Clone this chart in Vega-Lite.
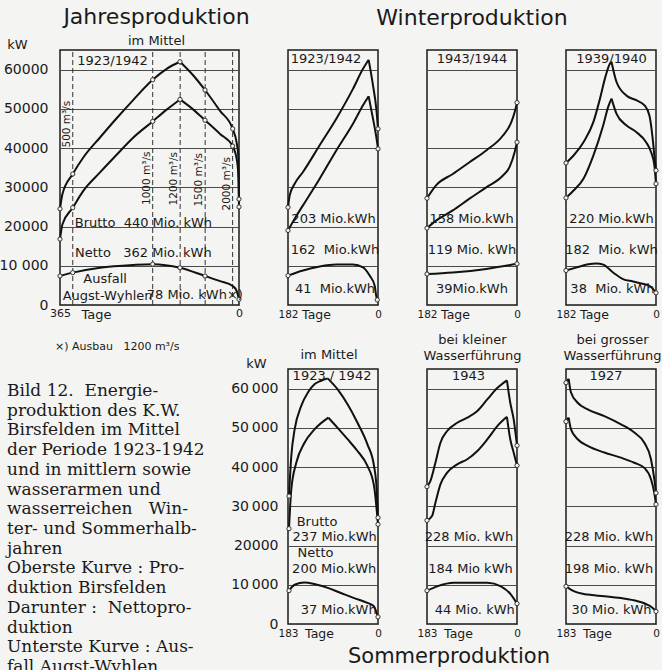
{
  "$schema": "https://vega.github.io/schema/vega-lite/v6.json",
  "background": "#f4f4f2",
  "padding": {"left": -2, "top": 5, "right": 0, "bottom": 0},
  "config": {
    "font": "DejaVu Sans",
    "view": {"stroke": "#1a1a1a", "strokeWidth": 1.5},
    "axis": {"domain": false, "ticks": false, "grid": false, "labelColor": "#1a1a1a", "titleColor": "#1a1a1a", "titleFontWeight": "normal", "gridColor": "#4a4a4a", "gridWidth": 1, "gridOpacity": 1, "labelFlush": false},
    "title": {"fontWeight": "normal", "color": "#1a1a1a", "subtitleColor": "#1a1a1a"},
    "text": {"fontSize": 13, "color": "#1a1a1a"}
  },
  "datasets": {
    "kurven": [
      {"p":"J","s":"B","a":1,"t":365,"kw":24500,"m":1},{"p":"J","s":"B","a":1,"t":360,"kw":28300},{"p":"J","s":"B","a":1,"t":339,"kw":33400,"m":1},{"p":"J","s":"B","a":1,"t":317.5,"kw":37600},{"p":"J","s":"B","a":1,"t":283.4,"kw":42700},{"p":"J","s":"B","a":1,"t":249.5,"kw":47600},{"p":"J","s":"B","a":1,"t":215.4,"kw":52300},{"p":"J","s":"B","a":1,"t":176,"kw":57400,"m":1},{"p":"J","s":"B","a":1,"t":147.5,"kw":60200},{"p":"J","s":"B","a":1,"t":120.3,"kw":62000,"m":1},
      {"p":"J","s":"B","a":2,"t":120.3,"kw":62000},{"p":"J","s":"B","a":2,"t":93.1,"kw":58500},{"p":"J","s":"B","a":2,"t":69.3,"kw":54800,"m":1},{"p":"J","s":"B","a":2,"t":38.7,"kw":49500},{"p":"J","s":"B","a":2,"t":12.9,"kw":44900,"m":1},{"p":"J","s":"B","a":2,"t":5,"kw":41500},{"p":"J","s":"B","a":2,"t":1.4,"kw":38000},{"p":"J","s":"B","a":2,"t":0,"kw":27000,"m":1},
      {"p":"J","s":"N","a":1,"t":365,"kw":16800,"m":1},{"p":"J","s":"N","a":1,"t":360,"kw":20600},{"p":"J","s":"N","a":1,"t":339,"kw":24800,"m":1},{"p":"J","s":"N","a":1,"t":317.5,"kw":29100},{"p":"J","s":"N","a":1,"t":283.4,"kw":33800},{"p":"J","s":"N","a":1,"t":249.5,"kw":38300},{"p":"J","s":"N","a":1,"t":215.4,"kw":42700},{"p":"J","s":"N","a":1,"t":176,"kw":46800,"m":1},{"p":"J","s":"N","a":1,"t":147.5,"kw":49800},{"p":"J","s":"N","a":1,"t":120.3,"kw":52400,"m":1},
      {"p":"J","s":"N","a":2,"t":120.3,"kw":52400},{"p":"J","s":"N","a":2,"t":93.1,"kw":49800},{"p":"J","s":"N","a":2,"t":69.3,"kw":47100,"m":1},{"p":"J","s":"N","a":2,"t":38.7,"kw":43600},{"p":"J","s":"N","a":2,"t":12.9,"kw":40500,"m":1},{"p":"J","s":"N","a":2,"t":3.5,"kw":36300},{"p":"J","s":"N","a":2,"t":1,"kw":32000},{"p":"J","s":"N","a":2,"t":0,"kw":25000,"m":1},
      {"p":"J","s":"A","a":1,"t":365,"kw":7400,"m":1},{"p":"J","s":"A","a":1,"t":339,"kw":8250,"m":1},{"p":"J","s":"A","a":1,"t":283.4,"kw":9500},{"p":"J","s":"A","a":1,"t":215.4,"kw":10200},{"p":"J","s":"A","a":1,"t":176,"kw":10400,"m":1},{"p":"J","s":"A","a":1,"t":120.3,"kw":9500,"m":1},{"p":"J","s":"A","a":1,"t":69.3,"kw":7400,"m":1},{"p":"J","s":"A","a":1,"t":38.7,"kw":6100},{"p":"J","s":"A","a":1,"t":12.9,"kw":4850},{"p":"J","s":"A","a":1,"t":4.8,"kw":3600},{"p":"J","s":"A","a":1,"t":0,"kw":1450,"m":1},

      {"p":"W1","s":"B","a":1,"t":182,"kw":24900,"m":1},{"p":"W1","s":"B","a":1,"t":178.6,"kw":27900},{"p":"W1","s":"B","a":1,"t":168.5,"kw":30900},{"p":"W1","s":"B","a":1,"t":151.7,"kw":33900},{"p":"W1","s":"B","a":1,"t":118,"kw":40700},{"p":"W1","s":"B","a":1,"t":84.3,"kw":47500},{"p":"W1","s":"B","a":1,"t":50.6,"kw":55100},{"p":"W1","s":"B","a":1,"t":30.3,"kw":60200},{"p":"W1","s":"B","a":1,"t":18.9,"kw":62500},
      {"p":"W1","s":"B","a":2,"t":18.9,"kw":62500},{"p":"W1","s":"B","a":2,"t":10.1,"kw":56000},{"p":"W1","s":"B","a":2,"t":3.4,"kw":50000},{"p":"W1","s":"B","a":2,"t":0,"kw":44900,"m":1},
      {"p":"W1","s":"N","a":1,"t":182,"kw":19000,"m":1},{"p":"W1","s":"N","a":1,"t":168.5,"kw":22000},{"p":"W1","s":"N","a":1,"t":151.7,"kw":25400},{"p":"W1","s":"N","a":1,"t":118,"kw":32200},{"p":"W1","s":"N","a":1,"t":84.3,"kw":39400},{"p":"W1","s":"N","a":1,"t":50.6,"kw":46200},{"p":"W1","s":"N","a":1,"t":30.3,"kw":50900},{"p":"W1","s":"N","a":1,"t":18.9,"kw":53200},
      {"p":"W1","s":"N","a":2,"t":18.9,"kw":53200},{"p":"W1","s":"N","a":2,"t":10.1,"kw":47500},{"p":"W1","s":"N","a":2,"t":3.4,"kw":42800},{"p":"W1","s":"N","a":2,"t":0,"kw":39800,"m":1},
      {"p":"W1","s":"A","a":1,"t":182,"kw":7500,"m":1},{"p":"W1","s":"A","a":1,"t":151.7,"kw":8800},{"p":"W1","s":"A","a":1,"t":118,"kw":9800},{"p":"W1","s":"A","a":1,"t":84.3,"kw":10300},{"p":"W1","s":"A","a":1,"t":50.6,"kw":10300},{"p":"W1","s":"A","a":1,"t":30.3,"kw":9600},{"p":"W1","s":"A","a":1,"t":16.9,"kw":7500},{"p":"W1","s":"A","a":1,"t":6.7,"kw":4900},{"p":"W1","s":"A","a":1,"t":3.4,"kw":2200},{"p":"W1","s":"A","a":1,"t":1.5,"kw":1300,"m":1},

      {"p":"W2","s":"B","a":1,"t":182,"kw":27200,"m":1},{"p":"W2","s":"B","a":1,"t":163.7,"kw":30500},{"p":"W2","s":"B","a":1,"t":129.9,"kw":33400},{"p":"W2","s":"B","a":1,"t":96.1,"kw":36400},{"p":"W2","s":"B","a":1,"t":62.2,"kw":39400},{"p":"W2","s":"B","a":1,"t":28.4,"kw":43200},{"p":"W2","s":"B","a":1,"t":11.5,"kw":46600},{"p":"W2","s":"B","a":1,"t":4.7,"kw":49200},{"p":"W2","s":"B","a":1,"t":0,"kw":51600,"m":1},
      {"p":"W2","s":"N","a":1,"t":182,"kw":19600,"m":1},{"p":"W2","s":"N","a":1,"t":163.7,"kw":21500},{"p":"W2","s":"N","a":1,"t":129.9,"kw":24100},{"p":"W2","s":"N","a":1,"t":96.1,"kw":27100},{"p":"W2","s":"N","a":1,"t":62.2,"kw":30000},{"p":"W2","s":"N","a":1,"t":28.4,"kw":33000},{"p":"W2","s":"N","a":1,"t":14.9,"kw":35200},{"p":"W2","s":"N","a":1,"t":4.7,"kw":39000},{"p":"W2","s":"N","a":1,"t":0,"kw":41500,"m":1},
      {"p":"W2","s":"A","a":1,"t":182,"kw":7900,"m":1},{"p":"W2","s":"A","a":1,"t":129.9,"kw":8300},{"p":"W2","s":"A","a":1,"t":62.2,"kw":9200},{"p":"W2","s":"A","a":1,"t":0,"kw":10500,"m":1},

      {"p":"W3","s":"B","a":1,"t":182,"kw":36200,"m":1},{"p":"W3","s":"B","a":1,"t":166.7,"kw":38100},{"p":"W3","s":"B","a":1,"t":146.7,"kw":41500},{"p":"W3","s":"B","a":1,"t":126.7,"kw":46600},{"p":"W3","s":"B","a":1,"t":113.3,"kw":52600},{"p":"W3","s":"B","a":1,"t":103.3,"kw":57700},{"p":"W3","s":"B","a":1,"t":93.3,"kw":61500},{"p":"W3","s":"B","a":1,"t":90,"kw":62000},
      {"p":"W3","s":"B","a":2,"t":90,"kw":62000},{"p":"W3","s":"B","a":2,"t":80,"kw":56900},{"p":"W3","s":"B","a":2,"t":60,"kw":53400},{"p":"W3","s":"B","a":2,"t":40,"kw":52200},{"p":"W3","s":"B","a":2,"t":23.3,"kw":50900},{"p":"W3","s":"B","a":2,"t":13.3,"kw":48300},{"p":"W3","s":"B","a":2,"t":6.7,"kw":42400},{"p":"W3","s":"B","a":2,"t":3.3,"kw":38100},{"p":"W3","s":"B","a":2,"t":0,"kw":34300,"m":1},
      {"p":"W3","s":"N","a":1,"t":182,"kw":27300,"m":1},{"p":"W3","s":"N","a":1,"t":166.7,"kw":29200},{"p":"W3","s":"N","a":1,"t":146.7,"kw":32200},{"p":"W3","s":"N","a":1,"t":126.7,"kw":38100},{"p":"W3","s":"N","a":1,"t":106.7,"kw":45800},{"p":"W3","s":"N","a":1,"t":96.7,"kw":50500},{"p":"W3","s":"N","a":1,"t":90,"kw":52600},
      {"p":"W3","s":"N","a":2,"t":90,"kw":52600},{"p":"W3","s":"N","a":2,"t":80,"kw":48800},{"p":"W3","s":"N","a":2,"t":60,"kw":45800},{"p":"W3","s":"N","a":2,"t":40,"kw":44100},{"p":"W3","s":"N","a":2,"t":20,"kw":41500},{"p":"W3","s":"N","a":2,"t":10,"kw":39000},{"p":"W3","s":"N","a":2,"t":3.3,"kw":35600},{"p":"W3","s":"N","a":2,"t":0,"kw":30900,"m":1},
      {"p":"W3","s":"A","a":1,"t":182,"kw":8800,"m":1},{"p":"W3","s":"A","a":1,"t":160,"kw":9600},{"p":"W3","s":"A","a":1,"t":140,"kw":10300},{"p":"W3","s":"A","a":1,"t":120,"kw":10600},{"p":"W3","s":"A","a":1,"t":106.7,"kw":10300},{"p":"W3","s":"A","a":1,"t":86.7,"kw":8300},{"p":"W3","s":"A","a":1,"t":66.7,"kw":6600},{"p":"W3","s":"A","a":1,"t":46.7,"kw":6000},{"p":"W3","s":"A","a":1,"t":26.7,"kw":5400},{"p":"W3","s":"A","a":1,"t":13.3,"kw":4900},{"p":"W3","s":"A","a":1,"t":3.3,"kw":3700},{"p":"W3","s":"A","a":1,"t":0,"kw":3100,"m":1},

      {"p":"S1","s":"B","a":1,"t":181,"kw":32600,"m":1},{"p":"S1","s":"B","a":1,"t":176.3,"kw":42800},{"p":"S1","s":"B","a":1,"t":169.5,"kw":49600},{"p":"S1","s":"B","a":1,"t":156.1,"kw":55600},{"p":"S1","s":"B","a":1,"t":142.6,"kw":59000},{"p":"S1","s":"B","a":1,"t":129.2,"kw":61100},{"p":"S1","s":"B","a":1,"t":115.7,"kw":62000},{"p":"S1","s":"B","a":1,"t":102.3,"kw":62600},
      {"p":"S1","s":"B","a":2,"t":102.3,"kw":62600},{"p":"S1","s":"B","a":2,"t":82.1,"kw":59800},{"p":"S1","s":"B","a":2,"t":61.9,"kw":56000},{"p":"S1","s":"B","a":2,"t":41.7,"kw":51300},{"p":"S1","s":"B","a":2,"t":21.5,"kw":45800},{"p":"S1","s":"B","a":2,"t":8.1,"kw":40300},{"p":"S1","s":"B","a":2,"t":2.7,"kw":34300},{"p":"S1","s":"B","a":2,"t":0,"kw":27100,"m":1},
      {"p":"S1","s":"N","a":1,"t":181,"kw":24300,"m":1},{"p":"S1","s":"N","a":1,"t":176.3,"kw":34300},{"p":"S1","s":"N","a":1,"t":166.2,"kw":41100},{"p":"S1","s":"N","a":1,"t":149.4,"kw":46200},{"p":"S1","s":"N","a":1,"t":129.2,"kw":49600},{"p":"S1","s":"N","a":1,"t":101,"kw":52600},
      {"p":"S1","s":"N","a":2,"t":101,"kw":52600},{"p":"S1","s":"N","a":2,"t":82.1,"kw":50000},{"p":"S1","s":"N","a":2,"t":61.9,"kw":47100},{"p":"S1","s":"N","a":2,"t":41.7,"kw":44100},{"p":"S1","s":"N","a":2,"t":21.5,"kw":40300},{"p":"S1","s":"N","a":2,"t":8.1,"kw":35200},{"p":"S1","s":"N","a":2,"t":0,"kw":25400,"m":1},
      {"p":"S1","s":"A","a":1,"t":181,"kw":8500,"m":1},{"p":"S1","s":"A","a":1,"t":169.5,"kw":10000},{"p":"S1","s":"A","a":1,"t":149.4,"kw":10600},{"p":"S1","s":"A","a":1,"t":129.2,"kw":10200},{"p":"S1","s":"A","a":1,"t":102.3,"kw":9200},{"p":"S1","s":"A","a":1,"t":75.4,"kw":7900},{"p":"S1","s":"A","a":1,"t":48.4,"kw":6600},{"p":"S1","s":"A","a":1,"t":21.5,"kw":5400},{"p":"S1","s":"A","a":1,"t":8.1,"kw":4500},{"p":"S1","s":"A","a":1,"t":2.7,"kw":2800},{"p":"S1","s":"A","a":1,"t":0,"kw":1800,"m":1},

      {"p":"S2","s":"B","a":1,"t":183,"kw":35000,"m":1},{"p":"S2","s":"B","a":1,"t":176.2,"kw":36400},{"p":"S2","s":"B","a":1,"t":165.9,"kw":41100},{"p":"S2","s":"B","a":1,"t":155.7,"kw":46200},{"p":"S2","s":"B","a":1,"t":142,"kw":49200},{"p":"S2","s":"B","a":1,"t":121.5,"kw":51300},{"p":"S2","s":"B","a":1,"t":101.1,"kw":52600},{"p":"S2","s":"B","a":1,"t":80.6,"kw":54300},{"p":"S2","s":"B","a":1,"t":60.1,"kw":57300},{"p":"S2","s":"B","a":1,"t":39.6,"kw":60200},{"p":"S2","s":"B","a":1,"t":20.5,"kw":62100},
      {"p":"S2","s":"B","a":2,"t":20.5,"kw":62100},{"p":"S2","s":"B","a":2,"t":13.7,"kw":56400},{"p":"S2","s":"B","a":2,"t":6.8,"kw":52200},{"p":"S2","s":"B","a":2,"t":0,"kw":45500,"m":1},
      {"p":"S2","s":"N","a":1,"t":183,"kw":26400,"m":1},{"p":"S2","s":"N","a":1,"t":172.8,"kw":27500},{"p":"S2","s":"N","a":1,"t":165.9,"kw":30900},{"p":"S2","s":"N","a":1,"t":155.7,"kw":35600},{"p":"S2","s":"N","a":1,"t":142,"kw":38600},{"p":"S2","s":"N","a":1,"t":121.5,"kw":40700},{"p":"S2","s":"N","a":1,"t":101.1,"kw":42000},{"p":"S2","s":"N","a":1,"t":80.6,"kw":44100},{"p":"S2","s":"N","a":1,"t":60.1,"kw":47100},{"p":"S2","s":"N","a":1,"t":39.6,"kw":50500},{"p":"S2","s":"N","a":1,"t":20.5,"kw":52800},
      {"p":"S2","s":"N","a":2,"t":20.5,"kw":52800},{"p":"S2","s":"N","a":2,"t":13.7,"kw":47100},{"p":"S2","s":"N","a":2,"t":6.8,"kw":43700},{"p":"S2","s":"N","a":2,"t":0,"kw":40400,"m":1},
      {"p":"S2","s":"A","a":1,"t":183,"kw":8500,"m":1},{"p":"S2","s":"A","a":1,"t":162.5,"kw":9600},{"p":"S2","s":"A","a":1,"t":128.4,"kw":10500},{"p":"S2","s":"A","a":1,"t":94.2,"kw":10500},{"p":"S2","s":"A","a":1,"t":60.1,"kw":10500},{"p":"S2","s":"A","a":1,"t":32.8,"kw":9600},{"p":"S2","s":"A","a":1,"t":12.3,"kw":7500},{"p":"S2","s":"A","a":1,"t":0,"kw":5200,"m":1},

      {"p":"S3","s":"B","a":1,"t":183,"kw":61500,"m":1},{"p":"S3","s":"B","a":1,"t":177.6,"kw":62500},
      {"p":"S3","s":"B","a":2,"t":177.6,"kw":62500},{"p":"S3","s":"B","a":2,"t":172.8,"kw":59000},{"p":"S3","s":"B","a":2,"t":159.3,"kw":56400},{"p":"S3","s":"B","a":2,"t":138.9,"kw":54700},{"p":"S3","s":"B","a":2,"t":105,"kw":53000},{"p":"S3","s":"B","a":2,"t":71.2,"kw":50900},{"p":"S3","s":"B","a":2,"t":44.1,"kw":48800},{"p":"S3","s":"B","a":2,"t":23.7,"kw":46200},{"p":"S3","s":"B","a":2,"t":10.2,"kw":42000},{"p":"S3","s":"B","a":2,"t":3.4,"kw":36900},{"p":"S3","s":"B","a":2,"t":0,"kw":33400,"m":1},
      {"p":"S3","s":"N","a":1,"t":183,"kw":51600,"m":1},{"p":"S3","s":"N","a":1,"t":177.6,"kw":52600},
      {"p":"S3","s":"N","a":2,"t":177.6,"kw":52600},{"p":"S3","s":"N","a":2,"t":172.8,"kw":49600},{"p":"S3","s":"N","a":2,"t":159.3,"kw":47100},{"p":"S3","s":"N","a":2,"t":138.9,"kw":45400},{"p":"S3","s":"N","a":2,"t":105,"kw":43700},{"p":"S3","s":"N","a":2,"t":71.2,"kw":42400},{"p":"S3","s":"N","a":2,"t":44.1,"kw":41100},{"p":"S3","s":"N","a":2,"t":23.7,"kw":39800},{"p":"S3","s":"N","a":2,"t":10.2,"kw":36900},{"p":"S3","s":"N","a":2,"t":3.4,"kw":33400},{"p":"S3","s":"N","a":2,"t":0,"kw":30500,"m":1},
      {"p":"S3","s":"A","a":1,"t":183,"kw":9600,"m":1},{"p":"S3","s":"A","a":1,"t":166,"kw":8300},{"p":"S3","s":"A","a":1,"t":138.9,"kw":7500},{"p":"S3","s":"A","a":1,"t":105,"kw":7100},{"p":"S3","s":"A","a":1,"t":71.2,"kw":6600},{"p":"S3","s":"A","a":1,"t":37.3,"kw":5800},{"p":"S3","s":"A","a":1,"t":16.9,"kw":4900},{"p":"S3","s":"A","a":1,"t":3.4,"kw":3700},{"p":"S3","s":"A","a":1,"t":0,"kw":3200,"m":1}
    ],
    "linien": [
      {"t":339,"kw":46100,"q":"500 m³/s"},
      {"t":176,"kw":32300,"q":"1000 m³/s"},
      {"t":120,"kw":32200,"q":"1200 m³/s"},
      {"t":69,"kw":31900,"q":"1500 m³/s"},
      {"t":13,"kw":30900,"q":"2000 m³/s"}
    ],
    "striche": [
      {"b":"jahr","t":25},{"b":"jahr","t":50},{"b":"jahr","t":75},{"b":"jahr","t":100},{"b":"jahr","t":125},{"b":"jahr","t":150},{"b":"jahr","t":175},{"b":"jahr","t":200},{"b":"jahr","t":225},{"b":"jahr","t":250},{"b":"jahr","t":275},{"b":"jahr","t":300},{"b":"jahr","t":325},{"b":"jahr","t":350},
      {"b":"halb","t":150},{"b":"halb","t":50},{"b":"mitte","t":100}
    ],
    "texte": [
      {"p":"J","text":"1923/1942","t":258,"kw":62300},
      {"p":"J","text":"Brutto\u00a0 440 Mio. kWh","t":195,"kw":20900},
      {"p":"J","text":"Netto\u00a0\u00a0 362 Mio. kWh","t":195,"kw":13300},
      {"p":"J","text":"Ausfall","t":273,"kw":6640},
      {"p":"J","text":"Augst-Wyhlen","t":268,"kw":2300},
      {"p":"J","text":"78 Mio. kWh×)","t":90,"kw":2550},
      {"p":"W1","text":"1923/1942","t":105,"kw":62800},
      {"p":"W1","text":"203 Mio.kWh","t":90,"kw":21800},
      {"p":"W1","text":"162\u00a0 Mio.kWh","t":87,"kw":13900},
      {"p":"W1","text":"41\u00a0 Mio.kWh","t":87,"kw":4100},
      {"p":"W2","text":"1943/1944","t":91,"kw":62800},
      {"p":"W2","text":"158 Mio.kWh","t":92,"kw":21800},
      {"p":"W2","text":"119 Mio. kWh","t":91,"kw":13900},
      {"p":"W2","text":"39Mio.kWh","t":91,"kw":4100},
      {"p":"W3","text":"1939/1940","t":90,"kw":62800},
      {"p":"W3","text":"220 Mio.kWh","t":90,"kw":21800},
      {"p":"W3","text":"182\u00a0 Mio. kWh","t":90,"kw":13900},
      {"p":"W3","text":"38\u00a0 Mio. kWh","t":88,"kw":4100},
      {"p":"S1","text":"1923 / 1942","t":93.5,"kw":63300},
      {"p":"S1","text":"Brutto","t":124,"kw":26000},
      {"p":"S1","text":"237 Mio.kWh","t":88,"kw":22200},
      {"p":"S1","text":"Netto","t":127,"kw":18100},
      {"p":"S1","text":"200 Mio.kWh","t":89,"kw":14000},
      {"p":"S1","text":"37 Mio.kWh","t":80,"kw":3600},
      {"p":"S2","text":"1943","t":98.7,"kw":63300},
      {"p":"S2","text":"228 Mio. kWh","t":97.7,"kw":22200},
      {"p":"S2","text":"184 Mio kWh","t":94.6,"kw":14000},
      {"p":"S2","text":"44 Mio. kWh","t":86,"kw":3600},
      {"p":"S3","text":"1927","t":101.7,"kw":63300},
      {"p":"S3","text":"228 Mio. kWh","t":95.6,"kw":22200},
      {"p":"S3","text":"198 Mio. kWh","t":95.6,"kw":14000},
      {"p":"S3","text":"30 Mio. kWh","t":90.5,"kw":3600}
    ],
    "legende": [
      {"zeile":1,"text":"Bild 12.\u00a0 Energie-"},
      {"zeile":2,"text":"produktion des K.W."},
      {"zeile":3,"text":"Birsfelden im Mittel"},
      {"zeile":4,"text":"der Periode 1923-1942"},
      {"zeile":5,"text":"und in mittlern sowie"},
      {"zeile":6,"text":"wasserarmen und"},
      {"zeile":7,"text":"wasserreichen\u00a0\u00a0 Win-"},
      {"zeile":8,"text":"ter- und Sommerhalb-"},
      {"zeile":9,"text":"jahren"},
      {"zeile":10,"text":"Oberste Kurve : Pro-"},
      {"zeile":11,"text":"\u00a0\u00a0\u00a0duktion Birsfelden"},
      {"zeile":12,"text":"Darunter :\u00a0 Nettopro-"},
      {"zeile":13,"text":"\u00a0\u00a0\u00a0duktion"},
      {"zeile":14,"text":"Unterste Kurve : Aus-"},
      {"zeile":15,"text":"\u00a0\u00a0\u00a0fall Augst-Wyhlen"}
    ]
  },
  "data": {"name": "kurven"},
  "columns": 4,
  "bounds": "flush",
  "align": "each",
  "spacing": {"row": 64, "column": 49},
  "concat": [
    {
      "width": 179, "height": 255,
      "title": {"text": "Jahresproduktion", "subtitle": "im Mittel", "fontSize": 22, "subtitleFontSize": 13, "dx": 7, "offset": -11, "subtitlePadding": 6},
      "encoding": {
        "x": {"field": "t", "type": "quantitative", "scale": {"domain": [365, 0], "nice": false, "zero": false},
              "axis": {"values": [365, 0], "labelFontSize": 11, "labelBaseline": "middle", "labelPadding": 8, "title": "Tage", "titleFontSize": 13, "titleX": 36, "titleY": 9, "titleAlign": "center", "titleBaseline": "middle"}},
        "y": {"field": "kw", "type": "quantitative", "scale": {"domain": [0, 65000], "nice": false},
              "axis": {"values": [0, 10000, 20000, 30000, 40000, 50000, 60000], "grid": true, "labelFontSize": 14, "labelPadding": 12, "labelExpr": "datum.value == 10000 ? '10 000' : '' + datum.value", "title": "kW", "titleAngle": 0, "titleX": -43, "titleY": -6, "titleAlign": "center", "titleBaseline": "middle", "titleFontSize": 13}}
      },
      "layer": [
        {"data": {"name": "linien"}, "mark": {"type": "rule", "strokeDash": [5, 3], "color": "#333", "strokeWidth": 1}, "encoding": {"y": {"datum": 0}, "y2": {"datum": 65000}}},
        {"data": {"name": "linien"}, "mark": {"type": "text", "angle": 270, "baseline": "bottom", "fontSize": 10.5, "dy": -1}, "encoding": {"text": {"field": "q"}}},
        {"data": {"name": "striche"}, "transform": [{"filter": "datum.b == 'jahr'"}], "mark": {"type": "rule", "color": "#222", "strokeWidth": 1}, "encoding": {"y": {"datum": 0}, "y2": {"datum": 1000}}},
        {"transform": [{"filter": "datum.p == 'J'"}], "mark": {"type": "line", "interpolate": "monotone", "color": "#111", "strokeWidth": 2}, "encoding": {"detail": [{"field": "s"}, {"field": "a"}], "order": {"field": "t", "type": "quantitative", "sort": "descending"}}},
        {"transform": [{"filter": "datum.p == 'J' && datum.m == 1"}], "mark": {"type": "point", "shape": "circle", "filled": true, "fill": "#f4f4f2", "stroke": "#333", "strokeWidth": 1, "size": 18, "opacity": 1}},
        {"data": {"name": "texte"}, "transform": [{"filter": "datum.p == 'J'"}], "mark": {"type": "text"}, "encoding": {"text": {"field": "text"}}}
      ]
    },
    {
      "width": 90, "height": 255,
      "encoding": {
        "x": {"field": "t", "type": "quantitative", "scale": {"domain": [182, 0], "nice": false, "zero": false},
              "axis": {"values": [182, 0], "labelFontSize": 10.5, "labelBaseline": "middle", "labelPadding": 9, "title": "Tage", "titleFontSize": 12.5, "titleX": 28, "titleY": 9, "titleAlign": "center", "titleBaseline": "middle"}},
        "y": {"field": "kw", "type": "quantitative", "scale": {"domain": [0, 65000], "nice": false},
              "axis": {"values": [0, 10000, 20000, 30000, 40000, 50000, 60000], "grid": true, "labels": false, "title": null}}
      },
      "layer": [
        {"data": {"name": "striche"}, "transform": [{"filter": "datum.b == 'halb'"}], "mark": {"type": "rule", "color": "#222", "strokeWidth": 1}, "encoding": {"y": {"datum": 0}, "y2": {"datum": 1000}}},
        {"data": {"name": "striche"}, "transform": [{"filter": "datum.b == 'mitte'"}], "mark": {"type": "rule", "color": "#222", "strokeWidth": 1}, "encoding": {"y": {"datum": 0}, "y2": {"datum": 2000}}},
        {"transform": [{"filter": "datum.p == 'W1'"}], "mark": {"type": "line", "interpolate": "monotone", "color": "#111", "strokeWidth": 2}, "encoding": {"detail": [{"field": "s"}, {"field": "a"}], "order": {"field": "t", "type": "quantitative", "sort": "descending"}}},
        {"transform": [{"filter": "datum.p == 'W1' && datum.m == 1"}], "mark": {"type": "point", "shape": "circle", "filled": true, "fill": "#f4f4f2", "stroke": "#333", "strokeWidth": 1, "size": 18, "opacity": 1}},
        {"data": {"name": "texte"}, "transform": [{"filter": "datum.p == 'W1'"}], "mark": {"type": "text"}, "encoding": {"text": {"field": "text"}}}
      ]
    },
    {
      "width": 90, "height": 255,
      "title": {"text": "Winterproduktion", "fontSize": 22, "offset": 20},
      "encoding": {
        "x": {"field": "t", "type": "quantitative", "scale": {"domain": [182, 0], "nice": false, "zero": false},
              "axis": {"values": [182, 0], "labelFontSize": 10.5, "labelBaseline": "middle", "labelPadding": 9, "title": "Tage", "titleFontSize": 12.5, "titleX": 28, "titleY": 9, "titleAlign": "center", "titleBaseline": "middle"}},
        "y": {"field": "kw", "type": "quantitative", "scale": {"domain": [0, 65000], "nice": false},
              "axis": {"values": [0, 10000, 20000, 30000, 40000, 50000, 60000], "grid": true, "labels": false, "title": null}}
      },
      "layer": [
        {"data": {"name": "striche"}, "transform": [{"filter": "datum.b == 'halb'"}], "mark": {"type": "rule", "color": "#222", "strokeWidth": 1}, "encoding": {"y": {"datum": 0}, "y2": {"datum": 1000}}},
        {"data": {"name": "striche"}, "transform": [{"filter": "datum.b == 'mitte'"}], "mark": {"type": "rule", "color": "#222", "strokeWidth": 1}, "encoding": {"y": {"datum": 0}, "y2": {"datum": 2000}}},
        {"transform": [{"filter": "datum.p == 'W2'"}], "mark": {"type": "line", "interpolate": "monotone", "color": "#111", "strokeWidth": 2}, "encoding": {"detail": [{"field": "s"}, {"field": "a"}], "order": {"field": "t", "type": "quantitative", "sort": "descending"}}},
        {"transform": [{"filter": "datum.p == 'W2' && datum.m == 1"}], "mark": {"type": "point", "shape": "circle", "filled": true, "fill": "#f4f4f2", "stroke": "#333", "strokeWidth": 1, "size": 18, "opacity": 1}},
        {"data": {"name": "texte"}, "transform": [{"filter": "datum.p == 'W2'"}], "mark": {"type": "text"}, "encoding": {"text": {"field": "text"}}}
      ]
    },
    {
      "width": 90, "height": 255,
      "encoding": {
        "x": {"field": "t", "type": "quantitative", "scale": {"domain": [182, 0], "nice": false, "zero": false},
              "axis": {"values": [182, 0], "labelFontSize": 10.5, "labelBaseline": "middle", "labelPadding": 9, "title": "Tage", "titleFontSize": 12.5, "titleX": 28, "titleY": 9, "titleAlign": "center", "titleBaseline": "middle"}},
        "y": {"field": "kw", "type": "quantitative", "scale": {"domain": [0, 65000], "nice": false},
              "axis": {"values": [0, 10000, 20000, 30000, 40000, 50000, 60000], "grid": true, "labels": false, "title": null}}
      },
      "layer": [
        {"data": {"name": "striche"}, "transform": [{"filter": "datum.b == 'halb'"}], "mark": {"type": "rule", "color": "#222", "strokeWidth": 1}, "encoding": {"y": {"datum": 0}, "y2": {"datum": 1000}}},
        {"data": {"name": "striche"}, "transform": [{"filter": "datum.b == 'mitte'"}], "mark": {"type": "rule", "color": "#222", "strokeWidth": 1}, "encoding": {"y": {"datum": 0}, "y2": {"datum": 2000}}},
        {"transform": [{"filter": "datum.p == 'W3'"}], "mark": {"type": "line", "interpolate": "monotone", "color": "#111", "strokeWidth": 2}, "encoding": {"detail": [{"field": "s"}, {"field": "a"}], "order": {"field": "t", "type": "quantitative", "sort": "descending"}}},
        {"transform": [{"filter": "datum.p == 'W3' && datum.m == 1"}], "mark": {"type": "point", "shape": "circle", "filled": true, "fill": "#f4f4f2", "stroke": "#333", "strokeWidth": 1, "size": 18, "opacity": 1}},
        {"data": {"name": "texte"}, "transform": [{"filter": "datum.p == 'W3'"}], "mark": {"type": "text"}, "encoding": {"text": {"field": "text"}}}
      ]
    },
    {
      "width": 179, "height": 255,
      "data": {"name": "legende"},
      "view": {"stroke": null},
      "title": {"text": "×) Ausbau\u00a0\u00a0 1200 m³/s", "fontSize": 11, "anchor": "start", "frame": "group", "dx": -5, "offset": 17},
      "mark": {"type": "text", "font": "DejaVu Serif", "fontSize": 17, "align": "left", "baseline": "middle", "dx": -53},
      "encoding": {
        "x": {"datum": 0, "type": "quantitative", "scale": {"domain": [0, 1]}, "axis": null},
        "y": {"field": "zeile", "type": "quantitative", "scale": {"domain": [-0.116, 12.82], "reverse": true, "nice": false, "zero": false}, "axis": null},
        "text": {"field": "text"}
      }
    },
    {
      "width": 90, "height": 255,
      "title": {"text": "im Mittel", "fontSize": 13, "dx": -4, "offset": -5},
      "encoding": {
        "x": {"field": "t", "type": "quantitative", "scale": {"domain": [183, 0], "nice": false, "zero": false},
              "axis": {"values": [183, 0], "labelFontSize": 10.5, "labelBaseline": "middle", "labelPadding": 9, "title": "Tage", "titleFontSize": 12.5, "titleX": 31, "titleY": 9, "titleAlign": "center", "titleBaseline": "middle"}},
        "y": {"field": "kw", "type": "quantitative", "scale": {"domain": [0, 65000], "nice": false},
              "axis": {"values": [0, 10000, 20000, 30000, 40000, 50000, 60000], "grid": true, "labelFontSize": 14, "labelPadding": 10, "labelExpr": "datum.value == 0 ? '0' : datum.value == 20000 ? '20000' : floor(datum.value / 1000) + '\u2009000'", "title": "kW", "titleAngle": 0, "titleX": -32, "titleY": -6, "titleAlign": "center", "titleBaseline": "middle", "titleFontSize": 13}}
      },
      "layer": [
        {"data": {"name": "striche"}, "transform": [{"filter": "datum.b == 'halb'"}], "mark": {"type": "rule", "color": "#222", "strokeWidth": 1}, "encoding": {"y": {"datum": 0}, "y2": {"datum": 1000}}},
        {"data": {"name": "striche"}, "transform": [{"filter": "datum.b == 'mitte'"}], "mark": {"type": "rule", "color": "#222", "strokeWidth": 1}, "encoding": {"y": {"datum": 0}, "y2": {"datum": 2000}}},
        {"transform": [{"filter": "datum.p == 'S1'"}], "mark": {"type": "line", "interpolate": "monotone", "color": "#111", "strokeWidth": 2}, "encoding": {"detail": [{"field": "s"}, {"field": "a"}], "order": {"field": "t", "type": "quantitative", "sort": "descending"}}},
        {"transform": [{"filter": "datum.p == 'S1' && datum.m == 1"}], "mark": {"type": "point", "shape": "circle", "filled": true, "fill": "#f4f4f2", "stroke": "#333", "strokeWidth": 1, "size": 18, "opacity": 1}},
        {"data": {"name": "texte"}, "transform": [{"filter": "datum.p == 'S1'"}], "mark": {"type": "text"}, "encoding": {"text": {"field": "text"}}}
      ]
    },
    {
      "width": 90, "height": 255,
      "title": {"text": "Sommerproduktion", "orient": "bottom", "fontSize": 21, "dx": -23, "offset": 6},
      "encoding": {
        "x": {"field": "t", "type": "quantitative", "scale": {"domain": [183, 0], "nice": false, "zero": false},
              "axis": {"values": [183, 0], "labelFontSize": 10.5, "labelBaseline": "middle", "labelPadding": 9, "title": "Tage", "titleFontSize": 12.5, "titleX": 31, "titleY": 9, "titleAlign": "center", "titleBaseline": "middle"}},
        "y": {"field": "kw", "type": "quantitative", "scale": {"domain": [0, 65000], "nice": false},
              "axis": {"values": [0, 10000, 20000, 30000, 40000, 50000, 60000], "grid": true, "labels": false, "title": ["bei kleiner", "Wasserführung"], "titleAngle": 0, "titleX": 45, "titleY": -26, "titleAlign": "center", "titleBaseline": "alphabetic", "titleFontSize": 13, "titleLineHeight": 16}}
      },
      "layer": [
        {"data": {"name": "striche"}, "transform": [{"filter": "datum.b == 'halb'"}], "mark": {"type": "rule", "color": "#222", "strokeWidth": 1}, "encoding": {"y": {"datum": 0}, "y2": {"datum": 1000}}},
        {"data": {"name": "striche"}, "transform": [{"filter": "datum.b == 'mitte'"}], "mark": {"type": "rule", "color": "#222", "strokeWidth": 1}, "encoding": {"y": {"datum": 0}, "y2": {"datum": 2000}}},
        {"transform": [{"filter": "datum.p == 'S2'"}], "mark": {"type": "line", "interpolate": "monotone", "color": "#111", "strokeWidth": 2}, "encoding": {"detail": [{"field": "s"}, {"field": "a"}], "order": {"field": "t", "type": "quantitative", "sort": "descending"}}},
        {"transform": [{"filter": "datum.p == 'S2' && datum.m == 1"}], "mark": {"type": "point", "shape": "circle", "filled": true, "fill": "#f4f4f2", "stroke": "#333", "strokeWidth": 1, "size": 18, "opacity": 1}},
        {"data": {"name": "texte"}, "transform": [{"filter": "datum.p == 'S2'"}], "mark": {"type": "text"}, "encoding": {"text": {"field": "text"}}}
      ]
    },
    {
      "width": 90, "height": 255,
      "encoding": {
        "x": {"field": "t", "type": "quantitative", "scale": {"domain": [183, 0], "nice": false, "zero": false},
              "axis": {"values": [183, 0], "labelFontSize": 10.5, "labelBaseline": "middle", "labelPadding": 9, "title": "Tage", "titleFontSize": 12.5, "titleX": 31, "titleY": 9, "titleAlign": "center", "titleBaseline": "middle"}},
        "y": {"field": "kw", "type": "quantitative", "scale": {"domain": [0, 65000], "nice": false},
              "axis": {"values": [0, 10000, 20000, 30000, 40000, 50000, 60000], "grid": true, "labels": false, "title": ["bei grosser", "Wasserführung"], "titleAngle": 0, "titleX": 46, "titleY": -26, "titleAlign": "center", "titleBaseline": "alphabetic", "titleFontSize": 13, "titleLineHeight": 16}}
      },
      "layer": [
        {"data": {"name": "striche"}, "transform": [{"filter": "datum.b == 'halb'"}], "mark": {"type": "rule", "color": "#222", "strokeWidth": 1}, "encoding": {"y": {"datum": 0}, "y2": {"datum": 1000}}},
        {"data": {"name": "striche"}, "transform": [{"filter": "datum.b == 'mitte'"}], "mark": {"type": "rule", "color": "#222", "strokeWidth": 1}, "encoding": {"y": {"datum": 0}, "y2": {"datum": 2000}}},
        {"transform": [{"filter": "datum.p == 'S3'"}], "mark": {"type": "line", "interpolate": "monotone", "color": "#111", "strokeWidth": 2}, "encoding": {"detail": [{"field": "s"}, {"field": "a"}], "order": {"field": "t", "type": "quantitative", "sort": "descending"}}},
        {"transform": [{"filter": "datum.p == 'S3' && datum.m == 1"}], "mark": {"type": "point", "shape": "circle", "filled": true, "fill": "#f4f4f2", "stroke": "#333", "strokeWidth": 1, "size": 18, "opacity": 1}},
        {"data": {"name": "texte"}, "transform": [{"filter": "datum.p == 'S3'"}], "mark": {"type": "text"}, "encoding": {"text": {"field": "text"}}}
      ]
    }
  ]
}
